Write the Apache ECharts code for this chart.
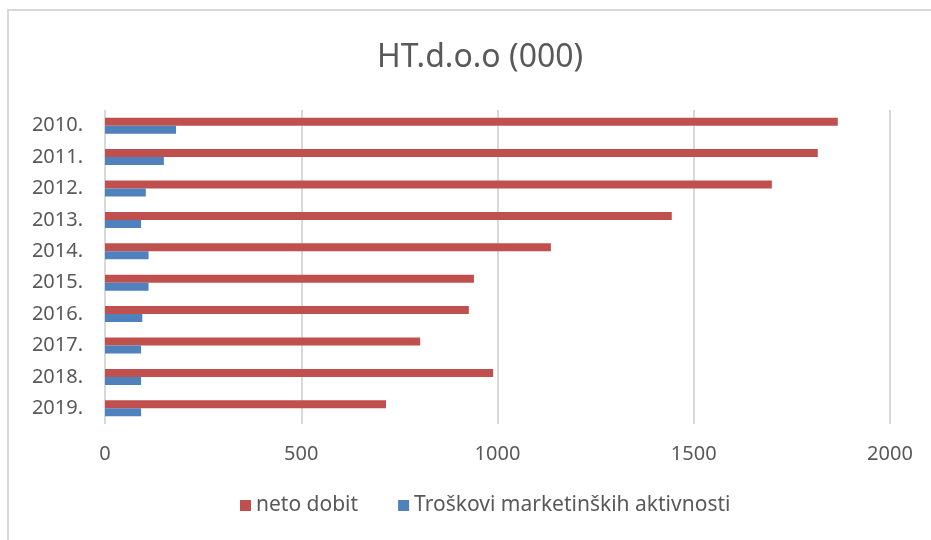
<!DOCTYPE html>
<html>
<head>
<meta charset="utf-8">
<title>HT.d.o.o (000)</title>
<script src="https://cdn.jsdelivr.net/npm/echarts@6/dist/echarts.min.js"></script>
<style>
  html, body { margin: 0; padding: 0; background: #fff; }
  #main { width: 931px; height: 540px; }
</style>
</head>
<body>
<div id="main"></div>
<script>
// podaci ocitani sa slike
const years = ['2010.', '2011.', '2012.', '2013.', '2014.', '2015.', '2016.', '2017.', '2018.', '2019.'];
const netoDobit = [1867, 1816, 1699, 1444, 1136, 940, 927, 803, 989, 716];
const troskoviMarketinga = [181, 150, 104, 92, 111, 111, 95, 92, 92, 92];
const xTicks = [0, 500, 1000, 1500, 2000];

const font = 'Noto Sans';
const grey = '#595959';

const myChart = echarts.init(document.getElementById('main'), null, {renderer: 'canvas'});

const option = {
    animation: false,
    backgroundColor: '#fff',
    title: {
        text: 'HT.d.o.o (000)',
        left: 372,
        top: 37,
        textStyle: { fontFamily: font, fontSize: 32, fontWeight: 'normal', color: grey }
    },
    // okvir oko grafikona
    graphic: [{
        type: 'rect',
        shape: { x: 8, y: 10, width: 1000, height: 700 },
        style: { fill: 'none', stroke: '#d9d9d9', lineWidth: 2 },
        silent: true
    }],
    legend: {
        bottom: 19,
        left: 235,
        itemWidth: 11,
        itemHeight: 11,
        itemGap: 40,
        icon: 'rect',
        textStyle: { fontFamily: font, fontSize: 21, color: grey },
        data: ['neto dobit', 'Troškovi marketinških aktivnosti']
    },
    grid: { left: 105, right: 41, top: 110, bottom: 116, containLabel: false },
    xAxis: {
        type: 'value',
        min: xTicks[0],
        max: xTicks[xTicks.length - 1],
        interval: 500,
        axisLine: { show: false },
        axisTick: { show: false },
        axisLabel: {
            fontFamily: font, fontSize: 20, color: grey, margin: 20,
            formatter: v => String(v)
        },
        splitLine: { lineStyle: { color: '#d9d9d9', width: 2 } }
    },
    yAxis: {
        type: 'category',
        data: years,
        inverse: true,
        axisLine: { show: false },
        axisTick: { show: false },
        axisLabel: { fontFamily: font, fontSize: 20, color: grey, margin: 22 }
    },
    series: [
        {
            name: 'neto dobit',
            type: 'bar',
            data: netoDobit,
            barWidth: 8,
            barGap: '0%',
            itemStyle: { color: '#C0504D' }
        },
        {
            name: 'Troškovi marketinških aktivnosti',
            type: 'bar',
            data: troskoviMarketinga,
            barWidth: 8,
            barGap: '0%',
            itemStyle: { color: '#4F81BD' }
        }
    ]
};

myChart.setOption(option);
</script>
</body>
</html>
